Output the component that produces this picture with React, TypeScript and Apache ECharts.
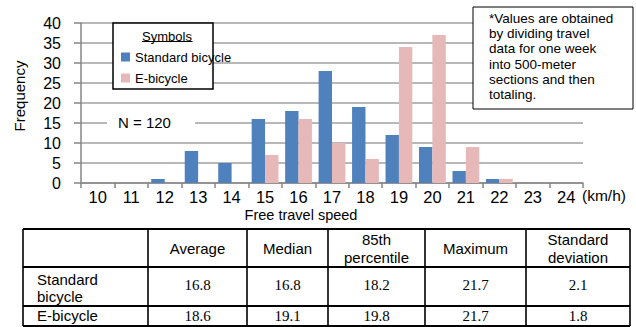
import React, { useEffect, useRef } from "react";
import * as echarts from "echarts";

const categories = ["10", "11", "12", "13", "14", "15", "16", "17", "18", "19", "20", "21", "22", "23", "24"];
const standardCounts = [0, 0, 1, 8, 5, 16, 18, 28, 19, 12, 9, 3, 1, 0, 0];
const eBikeCounts = [0, 0, 0, 0, 0, 7, 16, 10, 6, 34, 37, 9, 1, 0, 0];
const seriesNames = ["Standard bicycle", "E-bicycle"];
const yTicks = { min: 0, max: 40, interval: 5 };

const tableHeaders = ["", "Average", "Median", "85th\npercentile", "Maximum", "Standard\ndeviation"];
const tableRowLabels = ["Standard\nbicycle", "E-bicycle"];
const standardStats = ["16.8", "16.8", "18.2", "21.7", "2.1"];
const eBikeStats = ["18.6", "19.1", "19.8", "21.7", "1.8"];
const noteLines = [
  "*Values are obtained",
  "by dividing travel",
  "data for one week",
  "into 500-meter",
  "sections and then",
  "totaling.",
];

const SANS = "'Liberation Sans', Arial, sans-serif";
const SERIF = "'Liberation Serif', 'Times New Roman', serif";

// table layout
const colX = [23, 148, 247, 328, 425, 526, 630];
const rowY = [229, 267, 306, 326];

function buildTable(): any[] {
  const els: any[] = [];
  const x0 = colX[0];
  const x1 = colX[colX.length - 1];
  rowY.forEach((y) => {
    els.push({ type: "line", z: 10, shape: { x1: x0, y1: y, x2: x1, y2: y }, style: { stroke: "#000", lineWidth: 2 } });
  });
  colX.forEach((x) => {
    els.push({ type: "line", z: 10, shape: { x1: x, y1: rowY[0], x2: x, y2: rowY[rowY.length - 1] }, style: { stroke: "#000", lineWidth: 1.6 } });
  });
  tableHeaders.forEach((h, i) => {
    if (!h) return;
    els.push({
      type: "text", z: 11,
      x: (colX[i] + colX[i + 1]) / 2, y: 248.5,
      style: { text: h, fontSize: 15, fontFamily: SANS, fill: "#000", align: "center", verticalAlign: "middle", lineHeight: 17.4 },
    });
  });
  const rowCenters = [285, 316];
  const rowLabelCenters = [288.3, 315.5];
  tableRowLabels.forEach((lab, r) => {
    els.push({
      type: "text", z: 11, x: 37, y: rowLabelCenters[r],
      style: { text: lab, fontSize: 15, fontFamily: SANS, fill: "#000", align: "left", verticalAlign: "middle", lineHeight: 16.7 },
    });
  });
  [standardStats, eBikeStats].forEach((vals, r) => {
    vals.forEach((v, c) => {
      els.push({
        type: "text", z: 11,
        x: (colX[c + 1] + colX[c + 2]) / 2, y: rowCenters[r],
        style: { text: v, fontSize: 15, fontFamily: SERIF, fill: "#000", align: "center", verticalAlign: "middle" },
      });
    });
  });
  return els;
}

export default function App() {
  const ref = useRef<HTMLDivElement>(null);
  useEffect(() => {
    if (!ref.current) return;
    const chart = echarts.init(ref.current, undefined, { renderer: "svg" });
    const option: any = {
      animation: false,
      backgroundColor: "#fff",
      textStyle: { fontFamily: SANS },
      grid: { left: 81, right: 53, top: 23, bottom: 144, containLabel: false, outerBoundsMode: "none" },
      legend: {
        orient: "vertical", left: 121, top: 50, padding: 0,
        itemWidth: 9, itemHeight: 9, itemGap: 7, icon: "rect", z: 20,
        textStyle: { fontSize: 13, fontFamily: SANS, color: "#000", lineHeight: 14 },
        data: seriesNames,
      },
      xAxis: {
        type: "category",
        data: categories,
        boundaryGap: true,
        axisLine: { lineStyle: { color: "#868686", width: 1.5 } },
        axisTick: { show: true, length: 5, interval: 0, lineStyle: { color: "#868686", width: 1.5 } },
        axisLabel: { fontSize: 16.5, color: "#000", margin: 6, interval: 0, fontFamily: SANS, lineHeight: 16 },
      },
      yAxis: {
        type: "value",
        min: yTicks.min, max: yTicks.max, interval: yTicks.interval,
        axisLine: { show: true, lineStyle: { color: "#868686", width: 1.5 } },
        axisTick: { show: true, length: 7, lineStyle: { color: "#868686", width: 1.5 } },
        axisLabel: { fontSize: 16, color: "#000", margin: 20, fontFamily: SANS },
        splitLine: { lineStyle: { color: "#a0a0a0", width: 1.5 } },
      },
      series: [
        {
          name: seriesNames[0], type: "bar", data: standardCounts,
          barGap: "0%", barCategoryGap: "20%",
          itemStyle: { color: "#4f81bd" },
        },
        {
          name: seriesNames[1], type: "bar", data: eBikeCounts,
          barGap: "0%", barCategoryGap: "20%",
          itemStyle: { color: "#e6b9b8" },
        },
      ],
      graphic: {
        elements: [
          // legend box
          { type: "rect", z: 10, shape: { x: 113, y: 23, width: 100, height: 66 }, style: { fill: "#fff", stroke: "#000", lineWidth: 1.5 } },
          { type: "text", z: 11, x: 167, y: 36, style: { text: "Symbols", fontSize: 13, fontFamily: SANS, fill: "#000", align: "center", verticalAlign: "middle" } },
          { type: "line", z: 11, shape: { x1: 142, y1: 41.5, x2: 192.5, y2: 41.5 }, style: { stroke: "#000", lineWidth: 1 } },
          // N = 120
          {
            type: "text", z: 11, x: 107, y: 122.5,
            style: { text: "N = 120", fontSize: 15, fontFamily: SANS, fill: "#000", align: "left", verticalAlign: "middle", backgroundColor: "#fff", padding: [3, 24, 3, 11] },
          },
          // note box
          { type: "rect", z: 10, shape: { x: 473, y: 7, width: 160, height: 102 }, style: { fill: "#fff", stroke: "#000", lineWidth: 1 } },
          {
            type: "text", z: 11, x: 489, y: 10.7,
            style: { text: noteLines.join("\n"), fontSize: 13.5, fontFamily: SANS, fill: "#000", align: "left", verticalAlign: "top", lineHeight: 15.3 },
          },
          // axis titles
          { type: "text", z: 11, x: 19, y: 96, rotation: Math.PI / 2, style: { text: "Frequency", fontSize: 15, fontFamily: SANS, fill: "#000", align: "center", verticalAlign: "middle" } },
          { type: "text", z: 11, x: 301, y: 214.5, style: { text: "Free travel speed", fontSize: 14.5, fontFamily: SANS, fill: "#000", align: "center", verticalAlign: "middle", lineHeight: 15 } },
          { type: "text", z: 11, x: 582, y: 195, style: { text: "(km/h)", fontSize: 15.5, fontFamily: SANS, fill: "#000", align: "left", verticalAlign: "middle" } },
          ...buildTable(),
        ],
      },
    };
    chart.setOption(option);
    return () => chart.dispose();
  }, []);
  return <div ref={ref} style={{ position: "fixed", left: 0, top: 0, width: 636, height: 327 }} />;
}
